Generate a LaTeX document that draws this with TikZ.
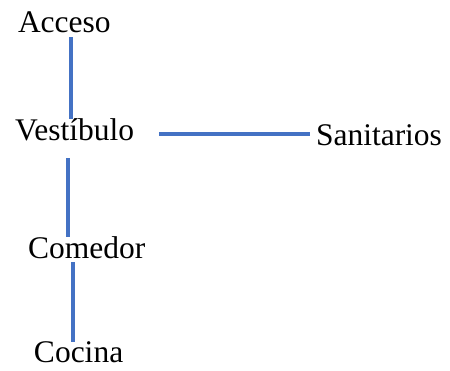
\documentclass[tikz,border=0pt]{standalone}
\usepackage{fontspec}
\setmainfont{Liberation Serif}
\usepackage{tikz}
\usetikzlibrary{calc}
\definecolor{LinkBlue}{HTML}{4472C4}
\tikzset{
  room/.style={anchor=base west, inner sep=0pt, outer sep=0pt, font=\fontsize{31.5}{36}\selectfont},
  link/.style={draw=LinkBlue, line width=4pt}
}
\begin{document}
\begin{tikzpicture}[x=1pt, y=-1pt]
  \useasboundingbox (0,0) rectangle (450,370);
  \node[room] (acceso) at (18,32) {Acceso};
  \node[room] (vestibulo) at (15,140) {Vestíbulo};
  \node[room] (sanitarios) at (316,145) {Sanitarios};
  \node[room] (comedor) at (28,258) {Comedor};
  \node[room] (cocina) at (34,362) {Cocina};
  \draw[link] (acceso.south -| 71,0) ++(0,5) -- ($(vestibulo.north -| 71,0)+(0,1)$);
  \draw[link] (vestibulo.south -| 68,0) ++(0,18) -- ($(comedor.north -| 68,0)+(0,1)$);
  \draw[link] (comedor.south -| 73,0) ++(0,4) -- ($(cocina.north -| 73,0)+(0,1)$);
  \path (vestibulo.east) ++(25,5) coordinate (hstart);
  \draw[link] (hstart) -- ([xshift=-6pt]hstart -| sanitarios.west);
\end{tikzpicture}
\end{document}
